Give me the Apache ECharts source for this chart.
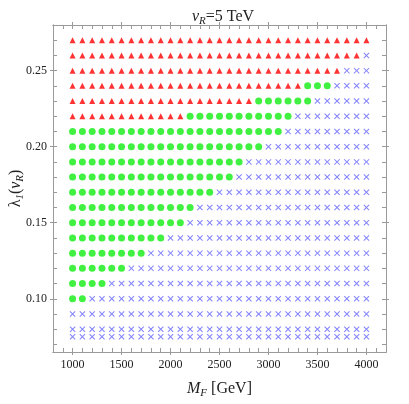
<!DOCTYPE html>
<html>
<head>
<meta charset="utf-8">
<script src="https://cdn.jsdelivr.net/npm/echarts@6/dist/echarts.min.js"></script>
<style>
html, body { margin: 0; padding: 0; background: #fff; }
#chart { width: 409px; height: 404px; }
</style>
</head>
<body>
<div id="chart"></div>
<script>
// M_F grid (GeV) and lambda_1 rows
const massF = [1000, 1100, 1200, 1300, 1400, 1500, 1600, 1700, 1800, 1900, 2000,
  2100, 2200, 2300, 2400, 2500, 2600, 2700, 2800, 2900, 3000,
  3100, 3200, 3300, 3400, 3500, 3600, 3700, 3800, 3900, 4000]
const lambdaRows = [0.27, 0.26, 0.25, 0.24, 0.23, 0.22, 0.21, 0.20, 0.19, 0.18, 0.17,
  0.16, 0.15, 0.14, 0.13, 0.12, 0.11, 0.10, 0.09, 0.08, 0.075]
// per row: last M_F drawn as triangle, last M_F drawn as dot (0 = none), rest are crosses
const triangleUpTo = [4000, 3900, 3700, 3300, 2800, 2100, 0, 0, 0, 0, 0,
  0, 0, 0, 0, 0, 0, 0, 0, 0, 0]
const dotUpTo = [0, 0, 0, 3600, 3400, 3200, 3100, 2900, 2700, 2600, 2400,
  2200, 2100, 1900, 1700, 1500, 1300, 1100, 0, 0, 0]

const xLabels = [1000, 1500, 2000, 2500, 3000, 3500, 4000]
const yLabels = [0.10, 0.15, 0.20, 0.25]
const xMinor = []
for (let v = 900; v <= 4100; v += 100) xMinor.push(v)
const yMinor = [0.07, 0.08, 0.09, 0.10, 0.11, 0.12, 0.13, 0.14, 0.15, 0.16, 0.17,
  0.18, 0.19, 0.20, 0.21, 0.22, 0.23, 0.24, 0.25, 0.26, 0.27, 0.28]

const triPts = []
const dotPts = []
const crossPts = []
lambdaRows.forEach((l, i) => {
  massF.forEach(m => {
    if (m <= triangleUpTo[i]) triPts.push([m, l])
    else if (m <= dotUpTo[i]) dotPts.push([m, l])
    else crossPts.push([m, l])
  })
})

const serif = 'Liberation Serif'
const frame = '#9a9a9a'
const crossPath = 'path://M0,1.2L1.2,0L5,3.8L8.8,0L10,1.2L6.2,5L10,8.8L8.8,10L5,6.2L1.2,10L0,8.8L3.8,5Z'

// rich styles for italic / subscript pieces
const richText = {
  i: { fontFamily: serif, fontStyle: 'italic', fontWeight: 'normal', fontSize: 16, color: '#222', lineHeight: 20 },
  s: { fontFamily: serif, fontStyle: 'italic', fontWeight: 'normal', fontSize: 11, color: '#222', lineHeight: 20, verticalAlign: 'bottom' },
  n: { fontFamily: serif, fontWeight: 'normal', fontSize: 16, color: '#222', lineHeight: 20 }
}

function xAx (pos, inside, vals, labels) {
  return {
    type: 'value', position: pos, min: 800, max: 4200,
    axisLine: { show: true, lineStyle: { color: frame, width: 1 } },
    axisTick: { show: true, inside: inside, length: inside ? 4 : 3, customValues: vals, lineStyle: { color: frame } },
    axisLabel: labels ? { show: true, customValues: xLabels, margin: 7, color: '#222', fontFamily: serif, fontSize: 12, formatter: v => String(v) } : { show: false },
    splitLine: { show: false }
  }
}
function yAx (pos, inside, vals, labels) {
  return {
    type: 'value', position: pos, min: 0.065, max: 0.28,
    axisLine: { show: true, lineStyle: { color: frame, width: 1 } },
    axisTick: { show: true, inside: inside, length: inside ? 4 : 3, customValues: vals, lineStyle: { color: frame } },
    axisLabel: labels ? { show: true, customValues: yLabels, margin: 6, color: '#222', fontFamily: serif, fontSize: 12, formatter: v => v.toFixed(2) } : { show: false },
    splitLine: { show: false }
  }
}

const myChart = echarts.init(document.getElementById('chart'))
myChart.setOption({
  animation: false,
  title: {
    text: '{i|v}{s|R}{n|=5 TeV}',
    left: 218, top: 2, textAlign: 'center',
    textStyle: { fontWeight: 'normal', rich: richText }
  },
  grid: { left: 51, right: 23, top: 25, bottom: 45, containLabel: false },
  xAxis: [
    Object.assign(xAx('bottom', true, xMinor, false), {
      name: '{i|M}{s|F}{n| [GeV]}', nameLocation: 'middle', nameGap: 27,
      nameTextStyle: { rich: richText }
    }),
    xAx('bottom', false, xLabels, true),
    xAx('top', true, xMinor, false),
    xAx('top', false, xLabels, false)
  ],
  yAxis: [
    Object.assign(yAx('left', true, yMinor, false), {
      name: '{n|λ}{s|1}{n|(}{i|v}{s|R}{n|)}', nameLocation: 'middle', nameGap: 27,
      nameTextStyle: { rich: richText }
    }),
    yAx('left', false, yLabels, true),
    yAx('right', true, yMinor, false),
    yAx('right', false, yLabels, false)
  ],
  series: [
    {
      type: 'scatter', data: crossPts, symbol: crossPath, symbolSize: 6,
      itemStyle: { color: '#6464ff' }
    },
    {
      type: 'scatter', data: dotPts, symbol: 'circle', symbolSize: 7,
      itemStyle: { color: '#11ee11' }
    },
    {
      type: 'scatter', data: triPts, symbol: 'triangle', symbolSize: 6,
      itemStyle: { color: '#ff0000' }
    }
  ]
})
</script>
</body>
</html>
